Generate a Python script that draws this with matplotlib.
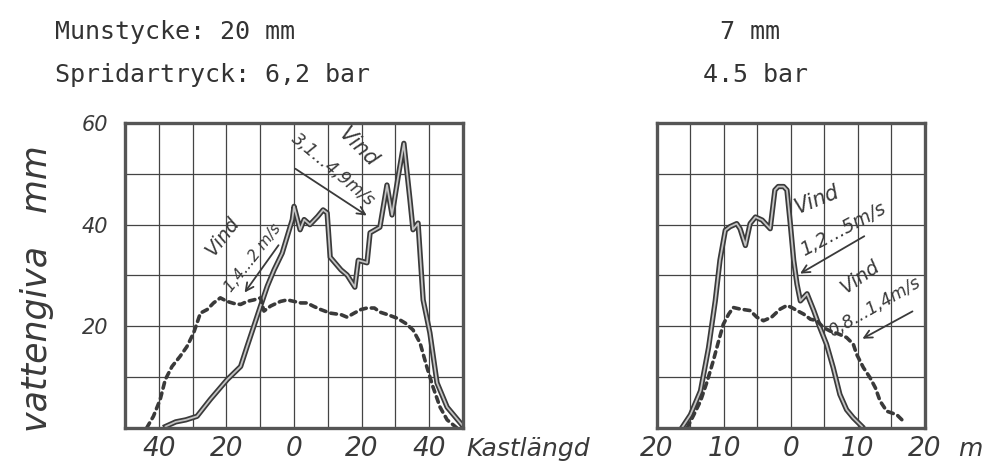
import matplotlib.pyplot as plt

# left diagram: Munstycke 20 mm, 6,2 bar (x in m, y in mm)
l_solid_x = [-38, -35, -32, -28.7, -24.8, -19.8, -15.8, -13.9, -11.9, -9.9, -7.9, -5.9, -3.5, -2, -0.5, 0,
             1.8, 3, 4.7, 7, 8.6, 9.8, 10.7, 13.9, 15.7, 18, 19, 21.6, 22.5, 25.4, 27.5, 29,
             30.8, 32.5, 34.3, 35.2, 36.7, 38.2, 40.2, 42.3, 45.3, 49.7]
l_solid_y = [0.3, 1.2, 1.6, 2.3, 5.6, 9.5, 12.1, 16, 20, 24, 27.9, 31.1, 34.4, 37.7, 41, 43.6,
             39, 41, 40, 41.6, 42.9, 42.3, 33.6, 31.1, 30.1, 27.7, 33, 32.5, 38.4, 39.5, 47.8, 41.9,
             49.4, 56, 44.9, 39, 40.3, 25.2, 18.7, 8.9, 4.1, 0.6]
l_dot_x = [-43.6, -41.6, -39.6, -38.1, -36.1, -33.7, -31.7, -29.7, -27.7, -25.7, -23.8, -21.8, -19.8,
           -17.8, -15.8, -13.9, -11.9, -9.9, -8.9, -6.9, -4, -2, 0, 2, 3.8, 5.9, 7.9, 10.7, 13.9,
           15.7, 17.8, 19.8, 21.6, 23.8, 25.4, 27.7, 30.5, 33, 35.2, 37.3, 39.3, 41.1, 43.2,
           45.3, 48.2]
l_dot_y = [0, 2.3, 5.6, 9.5, 12.1, 14.1, 16, 18.7, 22.6, 23.3, 24.6, 25.6, 24.9,
           24.5, 24.3, 24.9, 25.2, 25.6, 23, 24, 24.9, 25.2, 24.9, 24.6, 24.6, 23.9, 23.3, 22.6, 22.3,
           21.8, 22.6, 23.3, 23.6, 23.6, 22.8, 22.3, 21.6, 20.6, 19.3, 16.7, 12, 8.1, 4.1,
           1.6, 0]

# right diagram: 7 mm, 4.5 bar
r_solid_x = [-16.3, -15, -13.5, -12.3, -11.3, -10.6, -9.8, -9.1, -8.1, -7.6, -6.8, -6.1, -5.3, -4.3,
             -3.1, -2.4, -1.9, -1.1, -0.6, -0.1, 0.4, 0.9, 1.4, 2.4, 3.4, 4.3, 5.3, 6.3, 7.3, 8.3, 9.3, 10.6]
r_solid_y = [0, 2.6, 7.3, 15.8, 25, 33, 38.9, 39.6, 40.2, 39.2, 35.9, 40.2, 41.5, 40.9,
             39.2, 46.8, 47.5, 47.5, 46.8, 40.2, 33, 28.3, 25, 26.4, 23.1, 19.8, 16.5, 11.9, 6.6, 3.6, 2, 0.3]
r_dot_x = [-15.5, -14.5, -13.5, -12.5, -11.6, -10.8, -10.1, -9.3, -8.6, -7.6, -6.1, -5.1, -4.1, -2.9,
           -1.6, -0.6, 0.1, 0.9, 1.9, 2.9, 3.9, 4.8, 5.8, 7.1, 8.3, 9.3, 9.8, 10.8, 11.8, 12.6, 13.3,
           14.3, 15.8, 16.8]
r_dot_y = [0, 2.6, 5.3, 9.2, 13.2, 17.1, 20.4, 22.4, 23.7, 23.4, 23.1, 21.8, 21.1, 21.8,
           23.4, 24.1, 23.7, 23.1, 22.4, 21.4, 21.1, 19.8, 19.1, 18.5, 17.8, 16.5, 14.5, 11.9, 9.9, 7.9, 5.3,
           3.3, 2.6, 1.3]

ink = '#3a3a3a'
hand = {'family': 'DejaVu Sans', 'style': 'italic', 'color': ink}

fig = plt.figure(figsize=(9.86, 4.68), dpi=100)
axl = fig.add_axes([0.1268, 0.0855, 0.3428, 0.6517])
axr = fig.add_axes([0.6663, 0.0855, 0.2718, 0.6517])


def curves(ax, sx, sy, dx, dy):
    ax.plot(sx, sy, color=ink, lw=3.8, solid_joinstyle='round')
    ax.plot(sx, sy, color='#c4c4c4', lw=1.3, solid_joinstyle='round')
    ax.plot(dx, dy, color=ink, lw=2.6, linestyle=(0, (1.6, 1.4)), dash_capstyle='round')


def frame(ax, xt, xlab, ylab):
    ax.set_ylim(0, 60)
    ax.set_xticks(xt)
    ax.set_xticklabels(xlab, fontdict=hand, fontsize=19)
    ax.set_yticks(range(0, 61, 10))
    ax.set_yticklabels(ylab, fontdict=hand, fontsize=15)
    ax.tick_params(length=0, pad=6)
    ax.tick_params(axis='y', pad=12)
    ax.grid(True, color='#444444', lw=0.9)
    for s in ax.spines.values():
        s.set_linewidth(2.4)
        s.set_color('#555555')


curves(axl, l_solid_x, l_solid_y, l_dot_x, l_dot_y)
axl.set_xlim(-50, 50)
frame(axl, range(-50, 51, 10), ['', '40', '', '20', '', '0', '', '20', '', '40', ''],
      ['', '', '20', '', '40', '', '60'])

curves(axr, r_solid_x, r_solid_y, r_dot_x, r_dot_y)
axr.set_xlim(-20, 20)
frame(axr, range(-20, 21, 5), ['20', '', '10', '', '0', '', '10', '', '20'], [''] * 7)

arr = dict(arrowstyle='->', color=ink, lw=1.3, mutation_scale=14)

# annotations, left
axl.text(-21.3, 37.6, 'Vind', fontdict=hand, fontsize=14, rotation=52, ha='center', va='center',
         rotation_mode='anchor')
axl.text(-12.1, 33.4, '1,4...2 m/s', fontdict=hand, fontsize=11, rotation=52, ha='center',
         va='center', rotation_mode='anchor')
axl.annotate('', xy=(-15.1, 26.2), xytext=(-4.1, 36.4), arrowprops=arr)
axl.text(18.9, 55.3, 'Vind', fontdict=hand, fontsize=15, rotation=-45, ha='center', va='center',
         rotation_mode='anchor')
axl.text(11.5, 50.8, '3,1...4,9m/s', fontdict=hand, fontsize=12.5, rotation=-40, ha='center',
         va='center', rotation_mode='anchor')
axl.annotate('', xy=(22.2, 41.5), xytext=(-0.3, 51.3), arrowprops=arr)

# annotations, right
axr.text(3.9, 44.9, 'Vind', fontdict=hand, fontsize=15, rotation=22, ha='center', va='center',
         rotation_mode='anchor')
axr.text(7.8, 39, '1,2...5m/s', fontdict=hand, fontsize=13.5, rotation=28, ha='center',
         va='center', rotation_mode='anchor')
axr.annotate('', xy=(1, 30.1), xytext=(11.3, 38), arrowprops=arr)
axr.text(10.3, 29.7, 'Vind', fontdict=hand, fontsize=14, rotation=35, ha='center', va='center',
         rotation_mode='anchor')
axr.text(12.5, 23.8, '0,8...1,4m/s', fontdict=hand, fontsize=12.5, rotation=30, ha='center',
         va='center', rotation_mode='anchor')
axr.annotate('', xy=(10.3, 17.3), xytext=(18.5, 23.2), arrowprops=arr)

# header texts
mono = {'family': 'DejaVu Sans Mono', 'color': '#333333', 'fontsize': 18}
fig.text(55 / 986, 1 - 39 / 468, 'Munstycke: 20 mm', va='baseline', **mono)
fig.text(55 / 986, 1 - 82 / 468, 'Spridartryck: 6,2 bar', va='baseline', **mono)
fig.text(720 / 986, 1 - 39 / 468, '7 mm', va='baseline', **mono)
fig.text(703 / 986, 1 - 82 / 468, '4.5 bar', va='baseline', **mono)

fig.text(37 / 986, 1 - 289 / 468, 'vattengiva   mm', fontdict=hand, fontsize=25, rotation=90,
         ha='center', va='center')
fig.text(528 / 986, 1 - 449 / 468, 'Kastlängd', fontdict=hand, fontsize=18, ha='center',
         va='center')
fig.text(970 / 986, 1 - 449 / 468, 'm', fontdict=hand, fontsize=18, ha='center', va='center')

fig.savefig('out.png', dpi=100)
